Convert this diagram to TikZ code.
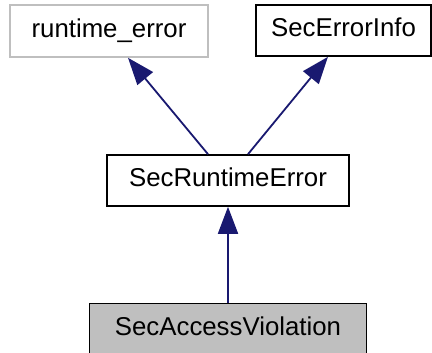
\documentclass[tikz,border=0pt]{standalone}
\usepackage{fontspec}
\setmainfont{Liberation Sans}
\usetikzlibrary{arrows.meta,calc}
\definecolor{edgeblue}{HTML}{191970}
\definecolor{boxgray}{HTML}{BFBFBF}
\begin{document}
\begin{tikzpicture}[x=1pt,y=-1pt,
  cls/.style={draw=black, line width=1.6pt, fill=white, inner sep=0pt,
    text height=18.8pt, text depth=6pt,
    font=\fontsize{25.8}{30}\selectfont},
  extcls/.style={cls, draw=boxgray},
  curcls/.style={cls, fill=boxgray},
  inherit/.style={draw=edgeblue, line width=1.8pt,
    -{Triangle[length=27pt,width=20pt]}, fill=edgeblue}]
  \useasboundingbox (0,0) rectangle (432,353);
  \clip (0,0) rectangle (432,353);
  \fill[white] (0,0) rectangle (432,353);
  % class boxes
  \node[extcls, minimum width=198pt, minimum height=52pt] (rt) at (109,31) {runtime\_error};
  \node[cls, minimum width=175pt, minimum height=51pt] (sei) at (343.5,30.5) {SecErrorInfo};
  \node[cls, minimum width=242pt, minimum height=51pt] (sre) at (228,180.5) {SecRuntimeError};
  \node[curcls, minimum width=277pt, minimum height=52pt] (sav) at (228,329.5) {SecAccessViolation};
  % inheritance edges
  \draw[inherit] ($(sre.north)+(-20,0)$) -- ($(rt.south)+(19,0)$);
  \draw[inherit] ($(sre.north)+(20,0)$) -- ($(sei.south)+(-15.5,0)$);
  \draw[inherit] (sav) -- (sre);
\end{tikzpicture}
\end{document}
